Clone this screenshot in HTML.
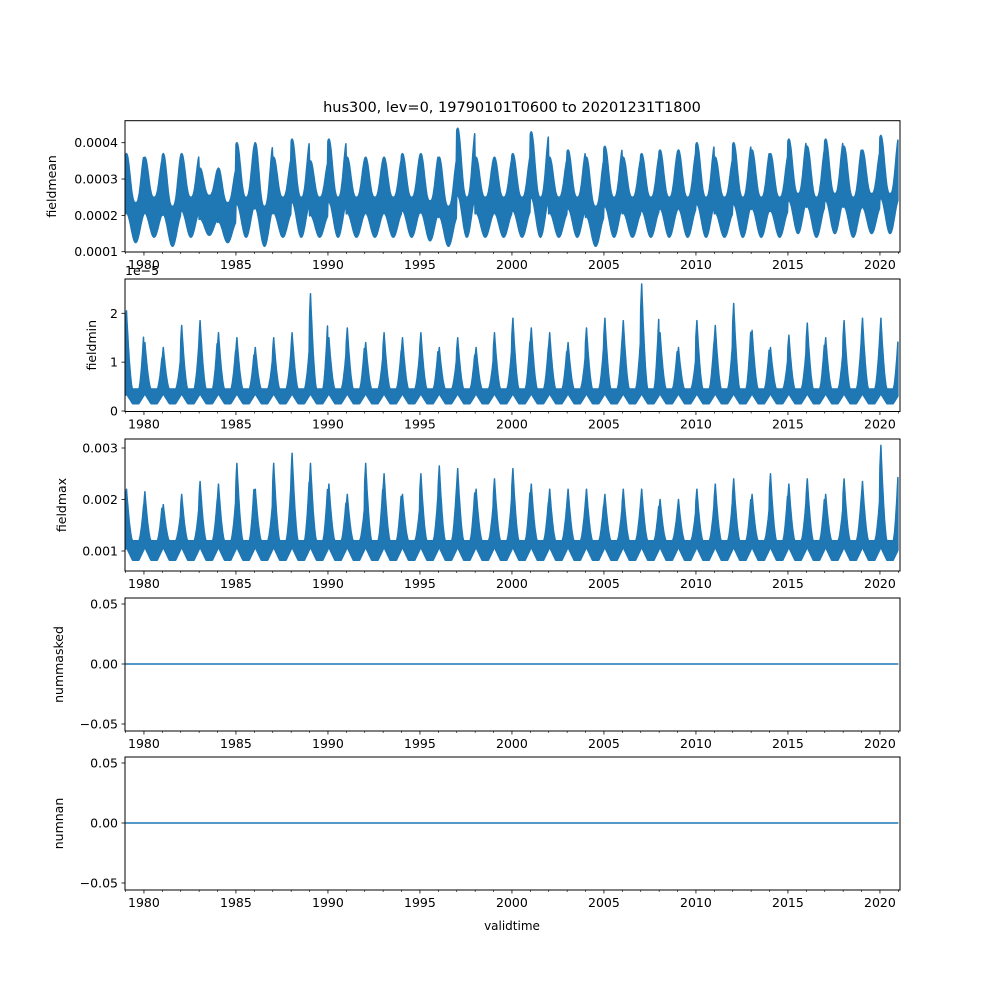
<!DOCTYPE html>
<html><head><meta charset="utf-8">
<style>
html,body{margin:0;padding:0;background:#fff;}
svg{display:block;font-family:"DejaVu Sans","Liberation Sans",sans-serif;}
</style></head>
<body>
<svg id="fig" width="1000" height="1000" viewBox="0 0 1000 1000">
<text x="512" y="112" font-size="14.5" text-anchor="middle">hus300, lev=0, 19790101T0600 to 20201231T1800</text>
<text x="512" y="930" font-size="12" text-anchor="middle">validtime</text>
</svg>
<script>
const years = [1979,1980,1981,1982,1983,1984,1985,1986,1987,1988,1989,1990,1991,1992,1993,1994,1995,1996,1997,1998,1999,2000,2001,2002,2003,2004,2005,2006,2007,2008,2009,2010,2011,2012,2013,2014,2015,2016,2017,2018,2019,2020];
const meanPeaks = [0.00037,0.00036,0.00037,0.00037,0.00033,0.00033,0.00040,0.00040,0.00036,0.00041,0.00035,0.00041,0.00036,0.00036,0.00036,0.00037,0.00037,0.00036,0.00044,0.00036,0.00036,0.00037,0.00043,0.00036,0.00038,0.00036,0.00039,0.00036,0.00037,0.00038,0.00038,0.00040,0.00036,0.00040,0.00038,0.00037,0.00041,0.00039,0.00041,0.00039,0.00038,0.00042];
const meanLows = [0.000125,0.00014,0.000115,0.00014,0.000145,0.000125,0.00014,0.000115,0.00014,0.00014,0.00014,0.00014,0.00014,0.00014,0.00014,0.00014,0.00013,0.000115,0.00014,0.00014,0.00014,0.00014,0.00014,0.00014,0.00014,0.000115,0.00014,0.00014,0.00014,0.00014,0.00014,0.00014,0.00014,0.00014,0.00014,0.00014,0.00015,0.00014,0.00015,0.00014,0.00015,0.00015];
const minPeaks = [2.05,1.4,1.3,1.75,1.85,1.6,1.5,1.3,1.5,1.6,2.4,1.5,1.7,1.4,1.6,1.5,1.6,1.3,1.5,1.3,1.6,1.9,1.7,1.6,1.4,1.7,1.9,1.85,2.6,1.6,1.3,1.85,1.75,2.2,1.65,1.3,1.55,1.8,1.5,1.85,1.9,1.9];
const maxPeaks = [0.0022,0.00215,0.0019,0.0021,0.00235,0.0023,0.0027,0.0022,0.0027,0.0029,0.0027,0.0023,0.0021,0.0027,0.0025,0.0021,0.0025,0.00265,0.0026,0.0022,0.0024,0.0026,0.0023,0.0022,0.0022,0.0022,0.0021,0.0022,0.0022,0.0020,0.0020,0.0022,0.0023,0.0024,0.0021,0.0025,0.0023,0.0024,0.0021,0.0024,0.00235,0.00305];
const xTicks = [1980,1985,1990,1995,2000,2005,2010,2015,2020];
const meanTicks = [0.0001,0.0002,0.0003,0.0004];
const minTicks = [0,1,2];
const maxTicks = [0.001,0.002,0.003];
const zeroTicks = [-0.05,0.00,0.05];
const zeroSeries = [0,0];

const NS="http://www.w3.org/2000/svg";
const svg=document.getElementById('fig');
const L=125,R=900,X0=1978.97,X1=2021.09;
const sx=t=>L+(t-X0)/(X1-X0)*(R-L);
const C='#1f77b4';
function el(tag,attrs,parent){const e=document.createElementNS(NS,tag);for(const k in attrs)e.setAttribute(k,attrs[k]);(parent||svg).appendChild(e);return e;}

const panels=[
 {name:'fieldmean',top:120.7,bot:252,v0:0.0001,y0:251.7,v1:0.0004,y1:142.7,ticks:meanTicks,fmt:v=>v.toFixed(4),lx:56},
 {name:'fieldmin',top:279,bot:411.5,v0:0,y0:411,v1:2,y1:313.3,ticks:minTicks,fmt:v=>String(v),lx:96},
 {name:'fieldmax',top:439,bot:571,v0:0.001,y0:551,v1:0.003,y1:448,ticks:maxTicks,fmt:v=>v.toFixed(3),lx:66},
 {name:'nummasked',top:598,bot:731,v0:-0.05,y0:724,v1:0.05,y1:604,ticks:zeroTicks,fmt:v=>(v<0?'\u22120.05':v.toFixed(2)),lx:63},
 {name:'numnan',top:757,bot:890,v0:-0.05,y0:883,v1:0.05,y1:763,ticks:zeroTicks,fmt:v=>(v<0?'\u22120.05':v.toFixed(2)),lx:63}
];

panels.forEach((p,pi)=>{
 const g=el('g',{});
 
 
 const sy=v=>p.y0+(v-p.v0)/(p.v1-p.v0)*(p.y1-p.y0);
 const cid='clip'+pi;
 const cp=el('clipPath',{id:cid},g);
 el('rect',{x:L,y:p.top,width:R-L,height:p.bot-p.top},cp);
 const dg=el('g',{'clip-path':'url(#'+cid+')'},g);
 if(pi<3){
  const up=[],lo=[];
  const N=40;
  years.forEach((yr,i)=>{
   for(let k=0;k<N;k++){
    const ph=k/N, t=yr+ph;
    let u,l;
    let d=ph-0.05; if(d>0.5)d-=1;
    if(pi===0){
     const hi=meanPeaks[i], lw=meanLows[i], w=0.00011;
     const c=(Math.cos(2*Math.PI*d)+1)/2;
     const s=Math.pow(c,1.5);
     u=lw+w+(hi-lw-w)*s; l=lw+(hi-lw-w)*0.6*c;
    } else {
     const tri=Math.max(0,1-Math.abs(d)/0.33);
     const s=Math.pow(tri,1.6);
     if(pi===1){ const hi=minPeaks[i]; u=0.45+(hi-0.45)*s; l=0.15+0.2*tri; }
     else { const hi=maxPeaks[i]; u=0.0012+(hi-0.0012)*s; l=0.00082+0.00025*tri; }
    }
    up.push([sx(t),sy(u)]); lo.push([sx(t),sy(l)]);
   }
  });
  const pts=up.concat(lo.reverse()).map(q=>q[0].toFixed(1)+','+q[1].toFixed(1)).join(' ');
  const poly=el('polygon',{points:pts,fill:C,stroke:C,'stroke-width':1.5,'stroke-linejoin':'round'},dg);
  
  
 } else {
  const ln=el('line',{x1:sx(years[0]),x2:sx(years[years.length-1]+1),y1:sy(zeroSeries[0]),y2:sy(zeroSeries[1]),stroke:C,'stroke-width':1.5},dg);
  
  
 }
 el('rect',{x:L,y:p.top,width:R-L,height:p.bot-p.top,fill:'none',stroke:'#000','stroke-width':1},g);
 p.ticks.forEach(v=>{
  const y=sy(v);
  el('line',{x1:L-3.5,x2:L,y1:y,y2:y,stroke:'#000','stroke-width':0.8},g);
  const t=el('text',{x:L-7,y:y+4.5,'font-size':12.5,'text-anchor':'end'},g);
  t.textContent=p.fmt(v);
  
  
 });
 for(let yr=1979;yr<=2021;yr++){
  const x=sx(yr); if(x<L-0.5||x>R+0.5) continue;
  const major=xTicks.indexOf(yr)>=0;
  el('line',{x1:x,x2:x,y1:p.bot,y2:p.bot+(major?3.5:2),stroke:'#000','stroke-width':major?0.8:0.6},g);
 }
 xTicks.forEach(yr=>{
  const t=el('text',{x:sx(yr),y:p.bot+17,'font-size':12.5,'text-anchor':'middle'},g);
  t.textContent=String(yr);
  
  
 });
 const yl=el('text',{x:p.lx,y:(p.top+p.bot)/2,'font-size':12.5,'text-anchor':'middle',transform:'rotate(-90 '+p.lx+' '+((p.top+p.bot)/2)+')'},g);
 yl.textContent=p.name;
 
 
 if(pi===1){
  const o=el('text',{x:L,y:p.top-4,'font-size':12.5},g);
  o.textContent='1e\u22125';
  
  
 }
});
</script>
</body></html>
